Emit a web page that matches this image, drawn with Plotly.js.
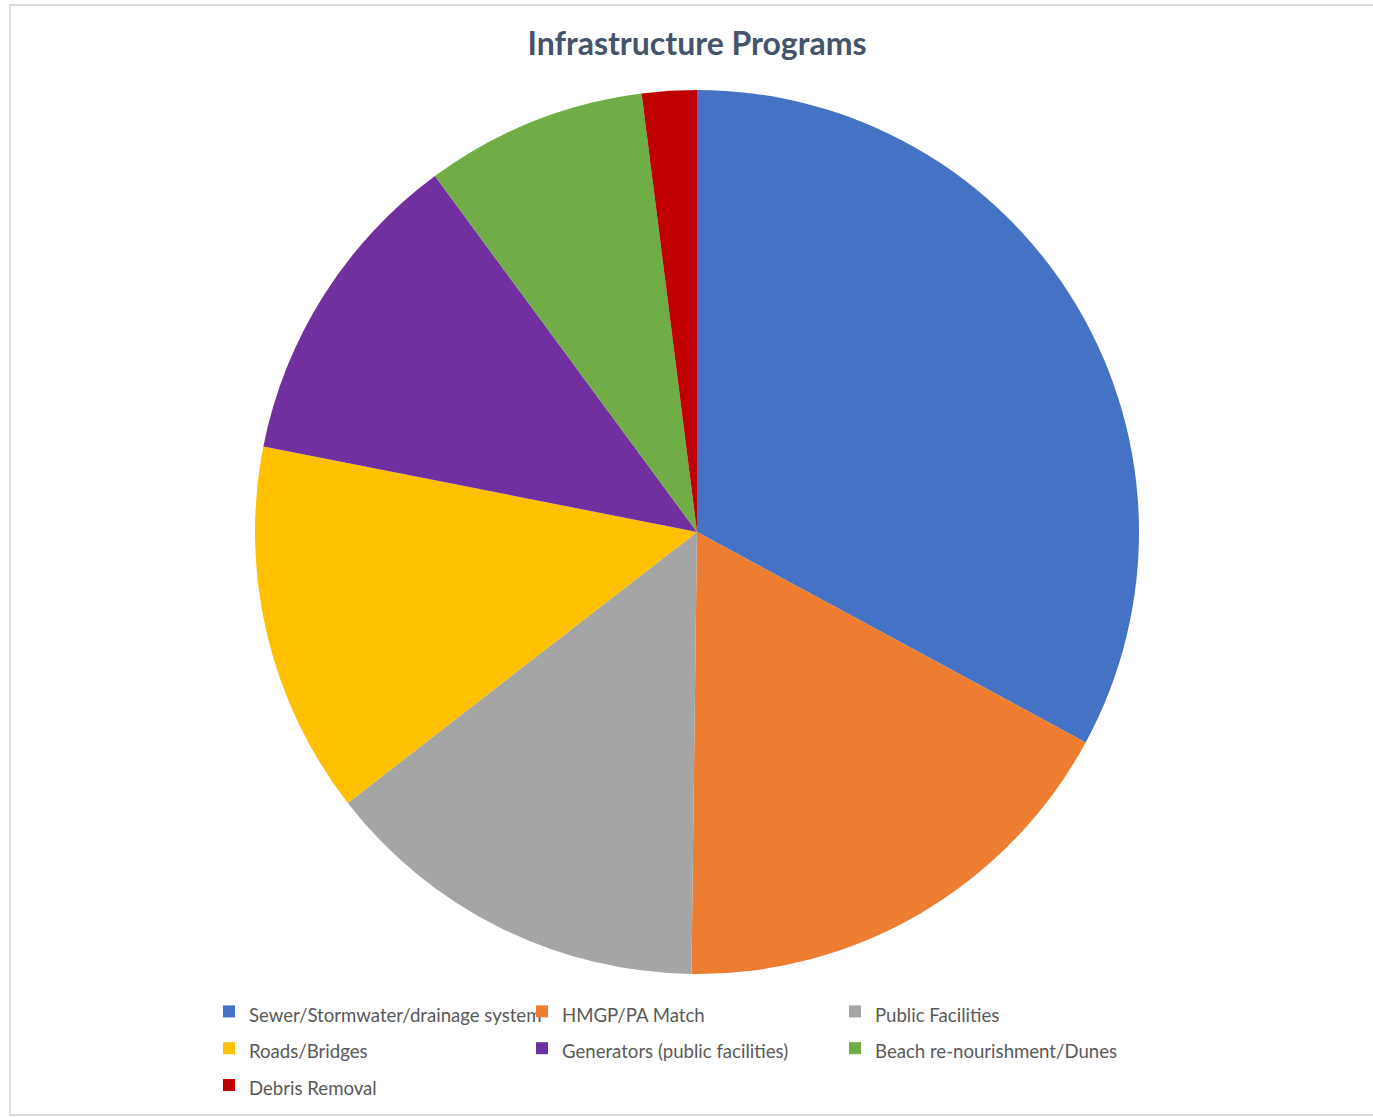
<!DOCTYPE html>
<html>
<head>
<meta charset="utf-8">
<script src="https://cdn.plot.ly/plotly-3.0.1.min.js"></script>
<style>html,body{margin:0;padding:0;background:#fff;}#chart{width:1373px;height:1117px;}</style>
</head>
<body>
<div id="chart"></div>
<script>
const categories = [
  "Sewer/Stormwater/drainage system",
  "HMGP/PA Match",
  "Public Facilities",
  "Roads/Bridges",
  "Generators (public facilities)",
  "Beach re-nourishment/Dunes",
  "Debris Removal"
];
const shares = [32.9, 17.3, 14.3, 13.6, 11.8, 8.1, 2.0];
const sliceColors = ["#4472C4", "#ED7D31", "#A5A5A5", "#FFC000", "#7030A0", "#70AD47", "#C00000"];

const W = 1373, H = 1117;
const ML = 86, MR = 87;            // side margins so that the legend wraps after 3 entries
const PW = W - ML - MR;            // plot-area width
const cx = 697, cy = 532, R = 442; // pie centre / radius in pixels

// legend rows are spaced wider than the text: larger legend font gives the row height,
// an inline span sets the visible label size
const legendLabels = categories.map(c => '<span style="font-size:18.6px">' + c + '</span>');

const px = v => (v - ML) / PW;     // pixel x -> plot-area fraction
const py = v => (H - v) / H;       // pixel y -> plot-area fraction

const data = [{
  type: "pie",
  labels: legendLabels,
  values: shares,
  sort: false,
  direction: "clockwise",
  rotation: 0,
  textinfo: "none",
  hoverinfo: "label+percent",
  marker: {colors: sliceColors, line: {width: 0}},
  domain: {
    x: [px(cx - R), px(cx + R)],
    y: [py(cy + R), py(cy - R)]
  }
}];

const layout = {
  width: W, height: H,
  margin: {l: ML, r: MR, t: 0, b: 0},
  paper_bgcolor: "#ffffff",
  plot_bgcolor: "rgba(0,0,0,0)",
  font: {family: "Lato, 'Open Sans', sans-serif", color: "#595959"},
  title: {
    text: "<b>Infrastructure Programs</b>",
    font: {family: "Lato, 'Open Sans', sans-serif", size: 32, color: "#44546A"},
    xref: "container", yref: "container",
    x: 697 / W, xanchor: "center",
    y: 1 - 44 / H, yanchor: "middle"
  },
  showlegend: true,
  legend: {
    orientation: "h",
    traceorder: "normal",
    x: px(222), xanchor: "left",
    y: py(988), yanchor: "top",
    entrywidth: 281, entrywidthmode: "pixels",
    indentation: -13,
    bgcolor: "rgba(0,0,0,0)",
    font: {family: "Lato, 'Open Sans', sans-serif", size: 26, color: "#595959"},
    itemwidth: 30
  },
  shapes: [{
    type: "rect", xref: "paper", yref: "paper",
    x0: px(10), x1: px(1380), y0: py(1115), y1: py(5),
    line: {color: "#D9DEE6", width: 2}, fillcolor: "rgba(0,0,0,0)"
  }]
};

Plotly.newPlot("chart", data, layout, {displayModeBar: false});
</script>
</body>
</html>
